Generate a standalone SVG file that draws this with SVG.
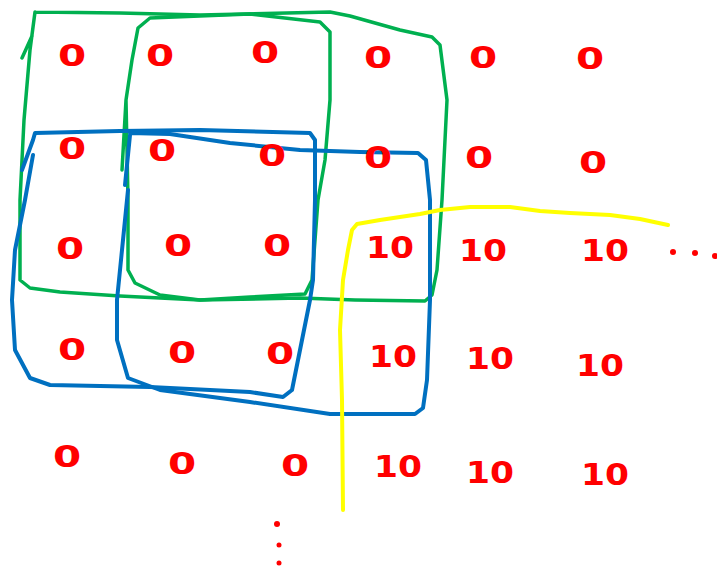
<svg xmlns="http://www.w3.org/2000/svg" width="717" height="571" viewBox="0 0 717 571">
<style>
.s{fill:none;stroke-linecap:round;stroke-linejoin:round}
.g{stroke:#00b050;stroke-width:3.5}
.b{stroke:#0070c0;stroke-width:4}
.y{stroke:#ffff00;stroke-width:4}
.n{font-family:"DejaVu Sans",sans-serif;font-size:30px;font-weight:bold;fill:#ff0000;text-anchor:middle}
.d{fill:#ff0000}
</style>
<rect width="717" height="571" fill="#fff"/>
<g id="frames">
<path class="s g" d="M22,58 L32,36 M35,12 L120,13 L200,15 L330,12 L350,16 L400,30 L432,37 L440,45 L447,100 L442,200 L437,270 L432,295 L425,301 L355,300 L300,298 L200,300 L120,296 L60,292 L30,288 L20,280 L20,200 L24,120 L30,50 L35,12"/>
<path class="s g" d="M122,170 L126,100 L132,60 L138,28 L150,18 L250,14 L320,22 L330,32 L330,100 L325,160 L318,200 L312,280 L305,294 L250,297 L200,300 L160,295 L135,283 L128,270 L128,200 L126,100"/>
<path class="s b" d="M22,170 L33,140 L35,133 L120,131 L200,130 L310,133 L315,140 L315,200 L313,280 L310,300 L300,350 L292,390 L283,397 L250,392 L150,387 L50,385 L30,378 L15,350 L12,300 L15,250 L25,200 L33,155"/>
<path class="s b" d="M125,185 L130,135 M130,133 L170,134 L230,143 L300,150 L360,152 L418,153 L426,160 L430,200 L430,300 L427,380 L423,408 L415,414 L330,414 L250,402 L160,390 L128,378 L117,340 L117,300 L122,250 L128,190"/>
<path class="s y" d="M343,510 L342,400 L340,330 L343,280 L348,250 L352,230 L357,224 L380,220 L420,214 L440,210 L470,207 L510,207 L540,211 L570,213 L610,215 L640,219 L668,225"/>
</g>
<g id="numbers">
<text class="n" transform="translate(72,66) scale(1.35,1)">0</text>
<text class="n" transform="translate(160,66) scale(1.35,1)">0</text>
<text class="n" transform="translate(265,63) scale(1.35,1)">0</text>
<text class="n" transform="translate(378,68) scale(1.35,1)">0</text>
<text class="n" transform="translate(483,68) scale(1.35,1)">0</text>
<text class="n" transform="translate(590,69) scale(1.35,1)">0</text>
<text class="n" transform="translate(72,159) scale(1.35,1)">0</text>
<text class="n" transform="translate(162,161) scale(1.35,1)">0</text>
<text class="n" transform="translate(272,166) scale(1.35,1)">0</text>
<text class="n" transform="translate(378,168) scale(1.35,1)">0</text>
<text class="n" transform="translate(479,168) scale(1.35,1)">0</text>
<text class="n" transform="translate(593,173) scale(1.35,1)">0</text>
<text class="n" transform="translate(70,259) scale(1.35,1)">0</text>
<text class="n" transform="translate(178,256) scale(1.35,1)">0</text>
<text class="n" transform="translate(277,256) scale(1.35,1)">0</text>
<text class="n" transform="translate(390,258) scale(1.15,1)">10</text>
<text class="n" transform="translate(483,261) scale(1.15,1)">10</text>
<text class="n" transform="translate(605,261) scale(1.15,1)">10</text>
<text class="n" transform="translate(72,360) scale(1.35,1)">0</text>
<text class="n" transform="translate(182,363) scale(1.35,1)">0</text>
<text class="n" transform="translate(280,364) scale(1.35,1)">0</text>
<text class="n" transform="translate(393,367) scale(1.15,1)">10</text>
<text class="n" transform="translate(490,369) scale(1.15,1)">10</text>
<text class="n" transform="translate(600,376) scale(1.15,1)">10</text>
<text class="n" transform="translate(67,467) scale(1.35,1)">0</text>
<text class="n" transform="translate(182,474) scale(1.35,1)">0</text>
<text class="n" transform="translate(295,476) scale(1.35,1)">0</text>
<text class="n" transform="translate(398,477) scale(1.15,1)">10</text>
<text class="n" transform="translate(490,483) scale(1.15,1)">10</text>
<text class="n" transform="translate(605,485) scale(1.15,1)">10</text>
</g>
<g id="dots">
<circle class="d" cx="673" cy="252" r="3"/>
<circle class="d" cx="695" cy="253" r="3"/>
<circle class="d" cx="715" cy="256" r="3"/>
<circle class="d" cx="277" cy="524" r="3"/>
<circle class="d" cx="279" cy="545" r="2.5"/>
<circle class="d" cx="279" cy="563" r="2.5"/>
</g>
</svg>
